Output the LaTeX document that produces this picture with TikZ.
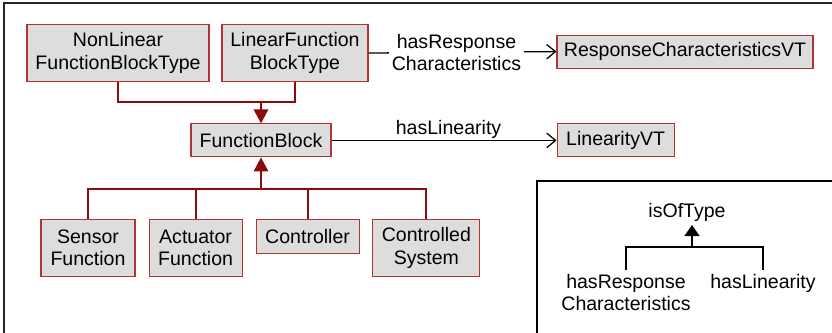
\documentclass[tikz,border=0pt]{standalone}
\usepackage{fontspec}
\setmainfont{Liberation Sans}
\usetikzlibrary{arrows.meta}
\definecolor{boxred}{RGB}{176,52,52}
\definecolor{linkred}{RGB}{140,10,10}
\definecolor{boxgray}{RGB}{221,221,221}

\begin{document}
\begin{tikzpicture}[font=\fontsize{13.9}{16}\selectfont,
  blk/.style={draw=boxred,line width=0.75pt,fill=boxgray,align=center,inner sep=0pt},
  isa/.style={draw=linkred,line width=1.4pt},
  rel/.style={line width=0.9pt,-{Straight Barb[length=0.22cm,width=0.36cm]}}]
\useasboundingbox (0,0) rectangle (20.8,-8.325);
\draw[line width=1.3pt,gray!30!black] (0.1,-8.325) |- (20.8,-0.075); %Rahmen

%Typen oben
\node[blk,anchor=north,minimum width=4.55cm,minimum height=1.425cm] (nlfbt) at (2.95,-0.6) {NonLinear\\FunctionBlockType};
\node[blk,anchor=north,minimum width=3.65cm,minimum height=1.425cm] (lfbt) at (7.375,-0.6) {LinearFunction\\BlockType};
\node[blk,minimum width=6.4cm,minimum height=0.825cm] (respvt) at (17.125,-1.29) {ResponseCharacteristicsVT};
\node[blk,minimum width=3.5cm,minimum height=0.825cm] (fb) at (6.525,-3.51) {FunctionBlock};
\node[blk,minimum width=2.925cm,minimum height=0.825cm] (linvt) at (15.39,-3.51) {LinearityVT};

%Funktionen unten
\node[blk,anchor=north,minimum width=2.35cm,minimum height=1.425cm] (sf) at (2.2,-5.475) {Sensor\\Function};
\node[blk,anchor=north,minimum width=2.325cm,minimum height=1.425cm] (af) at (4.89,-5.475) {Actuator\\Function};
\node[blk,anchor=north,minimum width=2.575cm,minimum height=0.85cm] (ctrl) at (7.69,-5.475) {Controller};
\node[blk,anchor=north,minimum width=2.675cm,minimum height=1.425cm] (cs) at (10.66,-5.475) {Controlled\\System};

%Vererbung
\coordinate (upbus) at (6.525,-2.55);
\coordinate (lowbus) at (6.525,-4.725);
\draw[isa] (nlfbt.south) |- (upbus) -| (lfbt.south);
\draw[isa,-{Triangle[length=0.35cm,width=0.36cm]}] (upbus) -- (fb.north);
\draw[isa,-{Triangle[length=0.35cm,width=0.36cm]}] (lowbus) -- (fb.south);
\foreach \n in {sf,af,ctrl,cs}
  \draw[isa] (\n.north) |- (lowbus);

%Relationen
\draw[rel] (lfbt.east) -- node[fill=white,align=center,inner sep=2pt,xshift=-0.15cm] {hasResponse\\Characteristics} (respvt.west);
\draw[rel] (fb.east) -- node[above,inner sep=1pt,pos=0.52] {hasLinearity} (linvt.west);

%Legende
\draw[line width=0.9pt] (13.425,-8.325) |- (20.8,-4.525);
\node (isoftype) at (17.175,-5.3) {isOfType};
\node[align=center,anchor=north,inner sep=0pt] (hrc) at (15.65,-6.85) {hasResponse\\Characteristics};
\node[anchor=north,inner sep=0pt] (hlin) at (19.075,-6.85) {hasLinearity};
\coordinate (legbus) at (17.3,-6.175);
\draw[line width=1pt,-{Triangle[length=0.28cm,width=0.38cm]}] (legbus) -- (17.3,-5.625);
\draw[line width=1pt] (hrc.north |- 0,-6.75) |- (legbus) -| (hlin.north |- 0,-6.75);
\end{tikzpicture}
\end{document}
